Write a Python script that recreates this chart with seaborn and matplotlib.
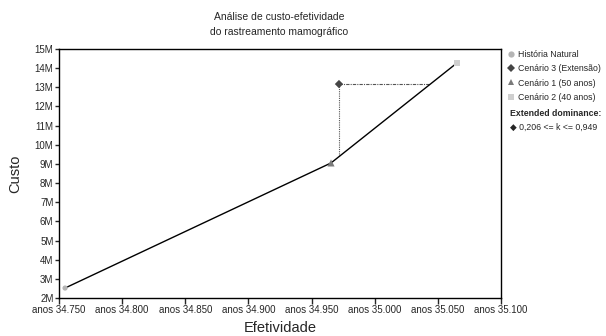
import matplotlib
matplotlib.use('Agg')
import matplotlib.pyplot as plt
import seaborn as sns
import pandas as pd
from matplotlib.lines import Line2D
from matplotlib.ticker import FuncFormatter

# data
cenarios = ['História Natural', 'Cenário 3 (Extensão)', 'Cenário 1 (50 anos)', 'Cenário 2 (40 anos)']
efetividade = [34.7548, 34.9717, 34.9654, 35.0651]
custo = [2.52, 13.17, 9.05, 14.27]  # milhões
marcadores = ['o', 'D', '^', 's']
cores = ['#b4b4b4', '#454545', '#7a7a7a', '#cfcfcf']
tamanhos = [14, 18, 26, 22]

# fronteira eficiente (sem o cenário dominado)
fronteira = ['História Natural', 'Cenário 1 (50 anos)', 'Cenário 2 (40 anos)']
k_min, k_max = '0,206', '0,949'

xticks = [34.75, 34.80, 34.85, 34.90, 34.95, 35.00, 35.05, 35.10]
yticks = list(range(2, 16))

sns.set_style('white')
plt.rcParams['font.family'] = ['Liberation Sans', 'DejaVu Sans']

df = pd.DataFrame({'cenario': cenarios, 'efetividade': efetividade, 'custo': custo})
df_front = df.set_index('cenario').loc[fronteira].reset_index()

fig = plt.figure(figsize=(6.06, 3.36), dpi=100)
ax = fig.add_axes([59 / 606, 1 - 298 / 336, 442 / 606, 249 / 336])

sns.lineplot(data=df_front, x='efetividade', y='custo', color='black', lw=1.0,
             sort=False, ax=ax, zorder=2)

# linhas de dominância estendida
dom = df.iloc[1]
p1, p2 = df_front.iloc[1], df_front.iloc[2]
slope = (p2.custo - p1.custo) / (p2.efetividade - p1.efetividade)
y_on = p1.custo + slope * (dom.efetividade - p1.efetividade)
x_on = p1.efetividade + (dom.custo - p1.custo) / slope
ax.plot([dom.efetividade, dom.efetividade], [dom.custo, y_on], ls=(0, (1, 1)), color='#555555', lw=0.8, zorder=1)
ax.plot([dom.efetividade, x_on], [dom.custo, dom.custo], ls=(0, (3, 1, 1, 1)), color='#555555', lw=0.8, zorder=1)

handles = []
for i, row in df.iterrows():
    sns.scatterplot(x=[row.efetividade], y=[row.custo], marker=marcadores[i], color=cores[i],
                    s=tamanhos[i], edgecolor='none', ax=ax, zorder=3, legend=False)
    handles.append(Line2D([], [], marker=marcadores[i], color=cores[i], ls='none', markersize=4.5,
                          markeredgewidth=0, label=row.cenario))

ax.set_xlim(34.75, 35.10)
ax.set_ylim(2, 15)
ax.set_xticks(xticks)
ax.set_yticks(yticks)
ax.xaxis.set_major_formatter(FuncFormatter(lambda v, p: f'anos {v:.3f}'))
ax.yaxis.set_major_formatter(FuncFormatter(lambda v, p: f'{int(round(v))}M'))
ax.tick_params(axis='x', direction='out', length=4, width=1, labelsize=7, pad=1, bottom=True)
ax.tick_params(axis='y', direction='out', length=3, width=1, labelsize=7, pad=1, left=True)
for s in ax.spines.values():
    s.set_color('black')
    s.set_linewidth(1.0)

ax.set_xlabel('Efetividade', fontsize=10.5, labelpad=4)
ax.set_ylabel('Custo', fontsize=10.5, labelpad=9)
fig.text(0.46, 0.965, 'Análise de custo-efetividade\ndo rastreamento mamográfico',
         ha='center', va='top', fontsize=7.5, linespacing=1.6)

fig.legend(handles=handles, loc='upper left', bbox_to_anchor=(507 / 606, 1 - 50 / 336),
           frameon=False, fontsize=6.3, handlelength=1.0, handletextpad=0.3,
           labelspacing=0.6, borderaxespad=0, borderpad=0)
fig.text(510 / 606, 1 - 113 / 336, 'Extended dominance:', fontsize=6.3, fontweight='bold', va='center')
fig.text(510 / 606, 1 - 127 / 336, f'◆ {k_min} <= k <= {k_max}', fontsize=6.3, va='center')

fig.savefig('out.png', dpi=100)
